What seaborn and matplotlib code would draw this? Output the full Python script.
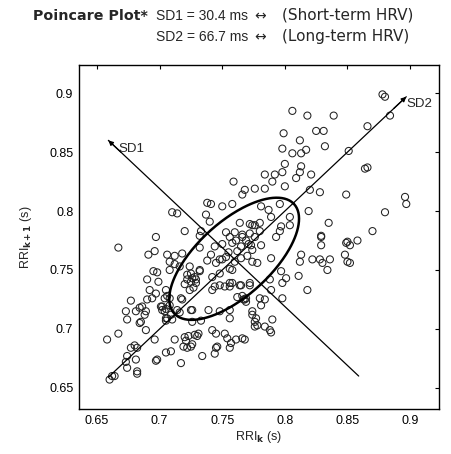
import numpy as np
import pandas as pd
import matplotlib
matplotlib.use("Agg")
import matplotlib.pyplot as plt
import seaborn as sns

# ---------------- data ----------------
rri_k = [
    0.878, 0.880, 0.806, 0.818, 0.839, 0.884, 0.799, 0.825, 0.831, 0.866,
    0.812, 0.832, 0.798, 0.806, 0.813, 0.817, 0.851, 0.864, 0.866, 0.800,
    0.813, 0.784, 0.792, 0.798, 0.809, 0.812, 0.821, 0.790, 0.800, 0.776,
    0.784, 0.768, 0.766, 0.820, 0.828, 0.849, 0.896, 0.897, 0.796, 0.819,
    0.880, 0.835, 0.870, 0.829, 0.781, 0.787, 0.789, 0.804, 0.804, 0.780,
    0.774, 0.797,
    0.759, 0.738, 0.741, 0.750, 0.758, 0.710, 0.714, 0.737, 0.740, 0.720,
    0.697, 0.733, 0.764, 0.772, 0.776, 0.753, 0.760, 0.766, 0.732,
    0.667, 0.691, 0.696, 0.706, 0.712, 0.718, 0.708, 0.712, 0.716, 0.708,
    0.695, 0.698, 0.690, 0.699, 0.722, 0.728, 0.732, 0.720, 0.725, 0.727,
    0.729, 0.742, 0.750, 0.753, 0.758, 0.756, 0.772, 0.742, 0.744, 0.692,
    0.697, 0.690, 0.694, 0.677, 0.705, 0.704, 0.701, 0.708, 0.684, 0.689,
    0.686, 0.681, 0.688, 0.673, 0.674, 0.685, 0.684, 0.705, 0.704, 0.718,
    0.714, 0.716, 0.725, 0.739, 0.756, 0.769, 0.768, 0.774, 0.756, 0.689,
    0.658, 0.667, 0.696, 0.712, 0.721, 0.719, 0.722, 0.728, 0.731, 0.742,
    0.745, 0.752, 0.754, 0.757, 0.761, 0.766, 0.768, 0.745, 0.744, 0.734,
    0.705, 0.709, 0.697, 0.698, 0.717, 0.674, 0.673, 0.681, 0.674, 0.682,
    0.682, 0.660, 0.662, 0.664, 0.680, 0.682, 0.677, 0.777, 0.778,
    0.758, 0.761, 0.732, 0.741, 0.748, 0.724, 0.756, 0.758, 0.725, 0.732,
    0.726, 0.722, 0.729, 0.724, 0.748, 0.756, 0.752, 0.748, 0.764, 0.762,
    0.706, 0.708, 0.717, 0.702, 0.705, 0.702, 0.706, 0.705, 0.709, 0.726,
    0.748, 0.710, 0.726, 0.733, 0.720, 0.723, 0.726, 0.725, 0.730, 0.746,
    0.756,
    0.796, 0.793, 0.772, 0.776, 0.780, 0.781, 0.774, 0.773, 0.829, 0.829,
    0.849, 0.789, 0.813, 0.812, 0.822, 0.830, 0.836, 0.834, 0.828, 0.848,
    0.850, 0.852, 0.774, 0.778, 0.797, 0.801, 0.798, 0.811, 0.818, 0.788,
    0.789, 0.772, 0.765, 0.780, 0.784, 0.781, 0.798, 0.767, 0.766, 0.769,
    0.774, 0.776, 0.776, 0.790, 0.784, 0.788, 0.789, 0.850, 0.852, 0.858,
    0.744, 0.750, 0.756, 0.766, 0.769, 0.771, 0.762, 0.755, 0.765, 0.760,
    0.745, 0.738, 0.765, 0.770,
]
rri_k1 = [
    0.899, 0.897, 0.885, 0.881, 0.881, 0.881, 0.866, 0.868, 0.868, 0.872,
    0.860, 0.855, 0.853, 0.849, 0.849, 0.852, 0.851, 0.836, 0.837, 0.840,
    0.838, 0.831, 0.831, 0.833, 0.828, 0.833, 0.831, 0.825, 0.821, 0.819,
    0.819, 0.818, 0.814, 0.818, 0.816, 0.814, 0.812, 0.806, 0.806, 0.800,
    0.799, 0.790, 0.783, 0.779, 0.804, 0.801, 0.795, 0.795, 0.788, 0.790,
    0.788, 0.787,
    0.825, 0.807, 0.806, 0.804, 0.806, 0.799, 0.798, 0.797, 0.791, 0.783,
    0.778, 0.783, 0.790, 0.789, 0.788, 0.782, 0.782, 0.780, 0.779,
    0.769, 0.763, 0.766, 0.763, 0.762, 0.764, 0.757, 0.755, 0.753, 0.750,
    0.749, 0.748, 0.742, 0.740, 0.746, 0.744, 0.750, 0.738, 0.740, 0.735,
    0.739, 0.744, 0.759, 0.761, 0.739, 0.736, 0.737, 0.733, 0.736, 0.733,
    0.730, 0.725, 0.726, 0.724, 0.733, 0.726, 0.719, 0.720, 0.718, 0.715,
    0.719, 0.715, 0.712, 0.715, 0.708, 0.706, 0.705, 0.709, 0.715, 0.725,
    0.716, 0.714, 0.716, 0.716, 0.716, 0.726, 0.725, 0.715, 0.709, 0.699,
    0.691, 0.696, 0.691, 0.691, 0.690, 0.685, 0.684, 0.695, 0.696, 0.699,
    0.696, 0.696, 0.692, 0.688, 0.691, 0.692, 0.691, 0.684, 0.679, 0.677,
    0.680, 0.681, 0.673, 0.674, 0.671, 0.677, 0.672, 0.674, 0.667, 0.664,
    0.662, 0.657, 0.660, 0.660, 0.686, 0.684, 0.684, 0.709, 0.703,
    0.773, 0.775, 0.769, 0.763, 0.759, 0.753, 0.751, 0.750, 0.747, 0.749,
    0.743, 0.742, 0.742, 0.733, 0.747, 0.739, 0.736, 0.737, 0.737, 0.727,
    0.728, 0.726, 0.726, 0.719, 0.717, 0.716, 0.709, 0.707, 0.712, 0.716,
    0.715, 0.708, 0.706, 0.707, 0.693, 0.694, 0.687, 0.685, 0.694, 0.685,
    0.684,
    0.783, 0.778, 0.781, 0.778, 0.783, 0.771, 0.767, 0.771, 0.778, 0.771,
    0.773, 0.760, 0.763, 0.757, 0.759, 0.756, 0.759, 0.750, 0.759, 0.763,
    0.757, 0.756, 0.757, 0.756, 0.749, 0.743, 0.739, 0.745, 0.733, 0.742,
    0.733, 0.739, 0.737, 0.726, 0.725, 0.720, 0.726, 0.725, 0.728, 0.723,
    0.712, 0.706, 0.702, 0.708, 0.702, 0.699, 0.697, 0.774, 0.771, 0.775,
    0.770, 0.772, 0.778, 0.778, 0.775, 0.772, 0.766, 0.765, 0.760, 0.757,
    0.756, 0.758, 0.770, 0.762,
]
n = min(len(rri_k), len(rri_k1))
df = pd.DataFrame({"RRI_k": rri_k[:n], "RRI_k1": rri_k1[:n]})

center = 0.7595
sd1 = 0.0304
sd2 = 0.0667
sd2_axis_x = [0.659, 0.897]
sd2_axis_y = [0.659, 0.897]
sd1_axis_x = [0.859, 0.659]
sd1_axis_y = [0.660, 0.860]

tick_values = [0.65, 0.7, 0.75, 0.8, 0.85, 0.9]
tick_labels = ["0.65", "0.7", "0.75", "0.8", "0.85", "0.9"]

# ---------------- figure ----------------
sns.set_theme(style="white")
plt.rcParams["font.family"] = ["Liberation Sans", "DejaVu Sans"]
plt.rcParams["mathtext.fontset"] = "custom"
plt.rcParams["mathtext.rm"] = "Liberation Sans"
plt.rcParams["mathtext.it"] = "Liberation Sans"

fig = plt.figure(figsize=(4.51, 4.54), dpi=100)
ax = fig.add_axes([0.175, 0.099, 0.798, 0.758])

sns.scatterplot(data=df, x="RRI_k", y="RRI_k1", ax=ax, marker="o",
                s=26, facecolor="none", edgecolor="#222222", linewidth=0.75,
                legend=False, zorder=2)

# SD axes lines with arrow heads
ax.plot(sd2_axis_x, sd2_axis_y, color="black", lw=0.9, zorder=3)
ax.plot(sd1_axis_x, sd1_axis_y, color="black", lw=0.9, zorder=3)
ax.annotate("", xy=(sd2_axis_x[1], sd2_axis_y[1]),
            xytext=(sd2_axis_x[1] - 0.01, sd2_axis_y[1] - 0.01),
            arrowprops=dict(arrowstyle="-|>", color="black", lw=0.9,
                            mutation_scale=7, shrinkA=0, shrinkB=0))
ax.annotate("", xy=(sd1_axis_x[1], sd1_axis_y[1]),
            xytext=(sd1_axis_x[1] + 0.01, sd1_axis_y[1] - 0.01),
            arrowprops=dict(arrowstyle="-|>", color="black", lw=0.9,
                            mutation_scale=7, shrinkA=0, shrinkB=0))
ax.text(0.6672, 0.8525, "SD1", fontsize=9.5, ha="left", va="center")
ax.text(0.8975, 0.8905, "SD2", fontsize=9.5, ha="left", va="center")

# ellipse
t = np.linspace(0, 2 * np.pi, 300)
u = sd2 * np.cos(t)
v = sd1 * np.sin(t)
ex = center + (u - v) / np.sqrt(2)
ey = center + (u + v) / np.sqrt(2)
ax.plot(ex, ey, color="black", lw=1.8, zorder=4)

ax.set_xlim(0.6355, 0.923)
ax.set_ylim(0.632, 0.924)
ax.set_xticks(tick_values)
ax.set_xticklabels(tick_labels)
ax.set_yticks(tick_values)
ax.set_yticklabels(tick_labels)
ax.tick_params(direction="in", length=3, width=0.8, top=True, right=True,
               labelsize=9, colors="black", pad=4)
for s in ax.spines.values():
    s.set_color("black")
    s.set_linewidth(1.0)

ax.set_xlabel(r"RRI$_\mathbf{k}$ (s)", fontsize=9, labelpad=2)
ax.set_ylabel(r"RRI$_\mathbf{k+1}$ (s)", fontsize=9, labelpad=11)

# header text
y1 = 1 - 20 / 454
y2 = 1 - 41 / 454
fig.text(33 / 451, y1, "Poincare Plot*", fontsize=10.3, fontweight="bold",
         family=["DejaVu Sans"], ha="left", va="baseline")
fig.text(156 / 451, y1, "SD1 = 30.4 ms", fontsize=10, ha="left", va="baseline")
fig.text(156 / 451, y2, "SD2 = 66.7 ms", fontsize=10, ha="left", va="baseline")
fig.text(260 / 451, y1, "\u2194", fontsize=10, family=["DejaVu Sans"],
         ha="center", va="baseline")
fig.text(260 / 451, y2, "\u2194", fontsize=10, family=["DejaVu Sans"],
         ha="center", va="baseline")
fig.text(282 / 451, y1, "(Short-term HRV)", fontsize=11, family=["DejaVu Sans"],
         ha="left", va="baseline")
fig.text(282 / 451, y2, "(Long-term HRV)", fontsize=11, family=["DejaVu Sans"],
         ha="left", va="baseline")

fig.savefig("out.png", dpi=100, facecolor="white")
